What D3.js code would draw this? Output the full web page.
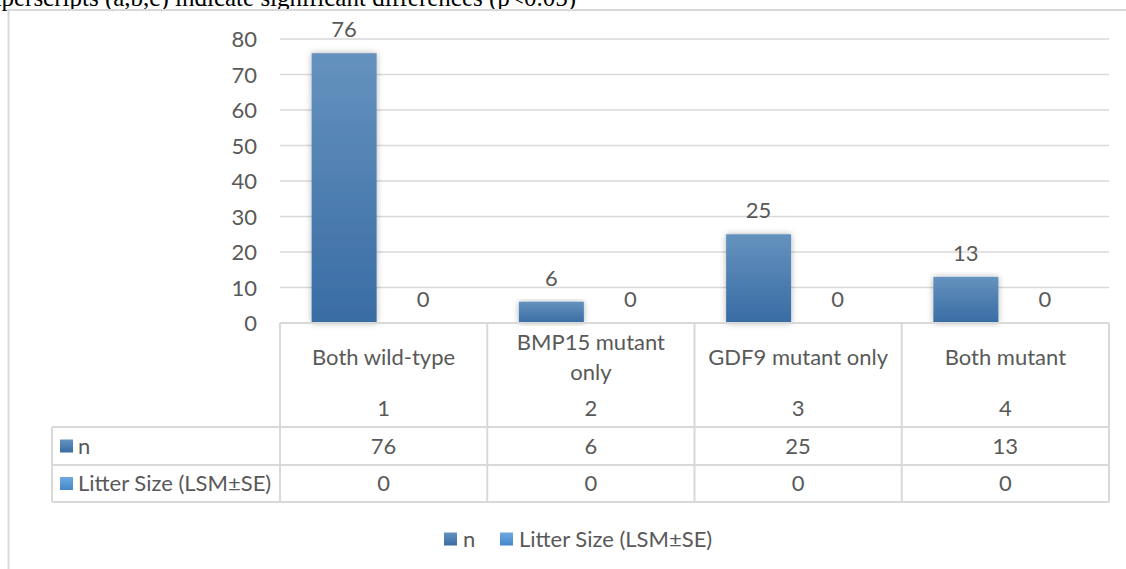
<!DOCTYPE html>
<html>
<head>
<meta charset="utf-8">
<script src="https://cdn.jsdelivr.net/npm/d3@7"></script>
<style>
  html, body { margin: 0; padding: 0; background: #fff; }
  svg { display: block; }
  text { font-family: Lato, "Noto Sans", sans-serif; fill: #595959; }
</style>
</head>
<body>
<svg id="chart" width="1126" height="569"></svg>
<script>
// Genotype groups and their values
const categories = ["Both wild-type", "BMP15 mutant only", "GDF9 mutant only", "Both mutant"];
const groupCodes = ["1", "2", "3", "4"];
const seriesNames = ["n", "Litter Size (LSM±SE)"];
const nValues = [76, 6, 25, 13];
const litterValues = [0, 0, 0, 0];
const yTicks = [0, 10, 20, 30, 40, 50, 60, 70, 80];
const noteText = "Superscripts (a,b,c) indicate significant differences (p<0.05)";

const seriesValues = [nValues, litterValues];

const svg = d3.select("#chart");
const W = 1126, H = 569;

const plot = { left: 280, right: 1109, top: 39, bottom: 323 };
const table = { left: 52, right: 1109, rows: [323, 427, 465, 502] };

const gridColor = "#d9d9d9";
const fontSize = 22;

// Gradients and shadow
const defs = svg.append("defs");
const gradN = defs.append("linearGradient").attr("id", "gradN")
  .attr("x1", 0).attr("y1", 0).attr("x2", 0).attr("y2", 1);
gradN.append("stop").attr("offset", "0%").attr("stop-color", "#6592be");
gradN.append("stop").attr("offset", "100%").attr("stop-color", "#396ca4");
const gradL = defs.append("linearGradient").attr("id", "gradL")
  .attr("x1", 0).attr("y1", 0).attr("x2", 0).attr("y2", 1);
gradL.append("stop").attr("offset", "0%").attr("stop-color", "#6eaae0");
gradL.append("stop").attr("offset", "100%").attr("stop-color", "#4487c9");
const fills = ["url(#gradN)", "url(#gradL)"];

const shadow = defs.append("filter").attr("id", "shadow")
  .attr("x", "-30%").attr("y", "-10%").attr("width", "160%").attr("height", "120%");
shadow.append("feDropShadow").attr("dx", 0).attr("dy", 0)
  .attr("stdDeviation", 3).attr("flood-color", "#000").attr("flood-opacity", 0.3);

// Note line above the chart frame (runs past the page top and left edge)
svg.append("text")
  .attr("x", 576).attr("y", 6)
  .attr("text-anchor", "end")
  .style("font-family", "'Liberation Serif', 'DejaVu Serif', serif")
  .style("font-size", "25px")
  .style("fill", "#000")
  .text(noteText);

// Chart frame
svg.append("path")
  .attr("d", `M${W},10 H8.5 V${H}`)
  .attr("fill", "none").attr("stroke", gridColor).attr("stroke-width", 2);

// Scales
const x0 = d3.scaleBand().domain(categories).range([plot.left, plot.right]);
const groupWidth = 144;
const x1 = d3.scaleBand().domain(seriesNames)
  .range([(x0.bandwidth() - groupWidth) / 2, (x0.bandwidth() + groupWidth) / 2])
  .paddingInner(14 / 79);
const y = d3.scaleLinear().domain([0, 80]).range([plot.bottom, plot.top]);

// Gridlines
svg.append("g").selectAll("line")
  .data(yTicks.filter(d => d > 0))
  .join("line")
  .attr("x1", plot.left).attr("x2", plot.right)
  .attr("y1", d => y(d)).attr("y2", d => y(d))
  .attr("stroke", gridColor).attr("stroke-width", 1.5);

// Y axis labels
const yAxis = d3.axisLeft(y).tickValues(yTicks).tickSize(0).tickPadding(0);
const yg = svg.append("g").attr("transform", `translate(${plot.left - 23},0)`).call(yAxis);
yg.select(".domain").remove();
yg.selectAll("text")
  .style("font-family", "Lato, 'Noto Sans', sans-serif")
  .style("font-size", fontSize + "px").style("fill", "#595959")
  .attr("dy", "0.36em");

// Bars
const groups = svg.append("g").selectAll("g")
  .data(categories)
  .join("g")
  .attr("transform", d => `translate(${x0(d)},0)`);

groups.selectAll("rect")
  .data((d, i) => seriesNames.map((s, k) => ({ s, k, v: seriesValues[k][i] })))
  .join("rect")
  .filter(d => d.v > 0)
  .attr("x", d => x1(d.s))
  .attr("width", x1.bandwidth())
  .attr("y", d => y(d.v))
  .attr("height", d => y(0) - y(d.v))
  .attr("fill", d => fills[d.k])
  .attr("filter", "url(#shadow)");

// Value labels above bars
groups.selectAll("text.val")
  .data((d, i) => seriesNames.map((s, k) => ({ s, k, v: seriesValues[k][i] })))
  .join("text")
  .attr("class", "val")
  .attr("x", d => x1(d.s) + x1.bandwidth() / 2)
  .attr("y", d => y(d.v) - 16)
  .attr("text-anchor", "middle")
  .style("font-size", fontSize + "px")
  .text(d => d.v);

// Data table grid
const tg = svg.append("g").attr("stroke", gridColor).attr("stroke-width", 2).attr("fill", "none");
const colEdges = categories.map(c => x0(c)).concat([plot.right]);
// header row (category axis): no left column
tg.append("line").attr("x1", plot.left).attr("x2", plot.right)
  .attr("y1", table.rows[0]).attr("y2", table.rows[0]);
colEdges.forEach(xe => {
  tg.append("line").attr("x1", xe).attr("x2", xe)
    .attr("y1", table.rows[0]).attr("y2", table.rows[1]);
});
// series rows
[1, 2, 3].forEach(r => {
  tg.append("line").attr("x1", table.left).attr("x2", plot.right)
    .attr("y1", table.rows[r]).attr("y2", table.rows[r]);
});
[table.left].concat(colEdges).forEach(xe => {
  tg.append("line").attr("x1", xe).attr("x2", xe)
    .attr("y1", table.rows[1]).attr("y2", table.rows[3]);
});

// Category labels (wrapped to the cell width)
const maxLabelWidth = 186;
categories.forEach((c, i) => {
  const cx = x0(c) + x0.bandwidth() / 2;
  const t = svg.append("text").attr("text-anchor", "middle")
    .style("font-size", fontSize + "px");
  t.text(c);
  let lines = [c];
  if (t.node().getComputedTextLength() > maxLabelWidth) {
    const words = c.split(" ");
    const last = words.pop();
    lines = [words.join(" "), last];
  }
  t.text(null);
  const lh = 30;
  const startY = 357 - (lines.length - 1) * lh / 2;
  lines.forEach((ln, j) => {
    t.append("tspan").attr("x", cx).attr("y", startY + j * lh).attr("dy", "0.36em").text(ln);
  });
  svg.append("text").attr("x", cx).attr("y", 408).attr("dy", "0.36em")
    .attr("text-anchor", "middle").style("font-size", fontSize + "px")
    .text(groupCodes[i]);
});

// Table rows: legend key, name, values
const rowMid = [ (table.rows[1] + table.rows[2]) / 2, (table.rows[2] + table.rows[3]) / 2 ];
seriesNames.forEach((s, k) => {
  svg.append("rect").attr("x", 60).attr("y", rowMid[k] - 6.5).attr("width", 13).attr("height", 13)
    .attr("fill", fills[k]);
  svg.append("text").attr("x", 78).attr("y", rowMid[k]).attr("dy", "0.36em")
    .style("font-size", fontSize + "px").text(s);
  categories.forEach((c, i) => {
    svg.append("text").attr("x", x0(c) + x0.bandwidth() / 2).attr("y", rowMid[k]).attr("dy", "0.36em")
      .attr("text-anchor", "middle").style("font-size", fontSize + "px")
      .text(seriesValues[k][i]);
  });
});

// Bottom legend
const legendY = 539;
const legendX = [444, 500];
seriesNames.forEach((s, k) => {
  svg.append("rect").attr("x", legendX[k]).attr("y", legendY - 6.5).attr("width", 13).attr("height", 13)
    .attr("fill", fills[k]);
  svg.append("text").attr("x", legendX[k] + 19).attr("y", legendY).attr("dy", "0.36em")
    .style("font-size", fontSize + "px").text(s);
});
</script>
</body>
</html>
